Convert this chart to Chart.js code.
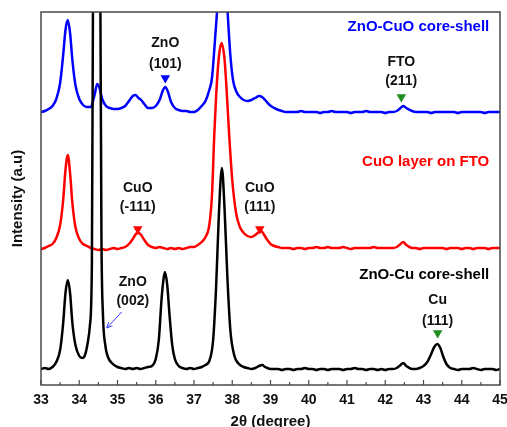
<!DOCTYPE html>
<html>
<head>
<meta charset="utf-8">
<script src="https://cdn.jsdelivr.net/npm/chart.js@4.4.0/dist/chart.umd.min.js"></script>
<style>
  html, body { margin: 0; padding: 0; background: #fff; }
</style>
</head>
<body>
<canvas id="xrd" width="507" height="427"></canvas>
<script>
// --- data (2θ in degrees, intensity in arbitrary units, traces already offset) ---
const blackTheta = [33.0,33.1,33.2,33.3,33.4,33.5,33.58,33.64,33.7,33.76,
  33.82,33.9,34.0,34.08,34.15,34.22,34.28,34.33,34.36,34.46,
  34.55,34.58,34.62,34.68,34.75,34.85,35.0,35.1,35.2,35.3,
  35.4,35.5,35.6,35.7,35.8,35.9,36.0,36.08,36.15,36.2,
  36.24,36.3,36.36,36.43,36.5,36.6,36.7,36.8,36.9,37.0,
  37.1,37.2,37.3,37.4,37.5,37.58,37.65,37.73,37.8,37.87,
  37.95,38.05,38.15,38.3,38.4,38.5,38.6,38.7,38.78,38.86,
  39.0,39.1,39.2,39.3,39.4,39.5,39.6,39.7,39.8,39.9,
  40.0,40.1,40.2,40.3,40.4,40.5,40.6,40.7,40.8,40.9,
  41.0,41.1,41.2,41.3,41.4,41.5,41.6,41.7,41.8,41.9,
  42.0,42.1,42.2,42.3,42.4,42.47,42.55,42.7,42.8,42.9,
  43.0,43.1,43.2,43.28,43.36,43.44,43.52,43.6,43.7,43.8,
  43.9,44.0,44.1,44.2,44.3,44.4,44.5,44.6,44.7,44.8,
  44.9,45.0];
const blackCounts = [16,17,16,18,23,35,62,92,105,92,
  62,40,29,27,30,42,60,120,400,1500,
  400,150,70,40,28,22,18,17,16,17,
  16,17,16,17,18,19,26,45,85,105,
  113,100,70,40,26,19,17,16,17,16,
  17,18,20,24,45,100,170,217,175,110,
  55,30,22,18,17,16,17,19,20,18,
  16,16,16,15,16,16,15,16,16,17,
  16,16,15,16,16,15,16,16,16,15,
  16,16,17,16,16,15,16,16,15,16,
  15,16,16,17,20,22,19,16,16,17,
  19,23,31,38,41,37,28,21,17,16,
  15,16,16,16,17,16,15,16,16,16,
  15,16];

const redTheta = [33.0,33.1,33.2,33.3,33.4,33.5,33.58,33.64,33.7,33.76,
  33.82,33.9,34.0,34.1,34.2,34.3,34.4,34.5,34.6,34.7,
  34.8,34.9,35.0,35.1,35.2,35.3,35.4,35.48,35.55,35.62,
  35.7,35.8,35.9,36.0,36.1,36.2,36.3,36.4,36.5,36.6,
  36.7,36.8,36.9,37.0,37.1,37.2,37.3,37.4,37.47,37.53,
  37.58,37.65,37.72,37.8,37.86,37.92,38.0,38.1,38.2,38.3,
  38.4,38.5,38.6,38.7,38.76,38.82,38.9,39.0,39.1,39.2,
  39.3,39.4,39.5,39.6,39.7,39.8,39.9,40.0,40.1,40.2,
  40.3,40.4,40.5,40.6,40.7,40.8,40.9,41.0,41.1,41.2,
  41.3,41.4,41.5,41.6,41.7,41.8,41.9,42.0,42.1,42.2,
  42.3,42.4,42.47,42.55,42.7,42.8,42.9,43.0,43.1,43.2,
  43.3,43.4,43.5,43.6,43.7,43.8,43.9,44.0,44.1,44.2,
  44.3,44.4,44.5,44.6,44.7,44.8,44.9,45.0];
const redCounts = [136,137,139,141,147,160,185,215,230,212,
  182,158,146,141,139,137,136,135,136,135,
  136,137,136,137,138,141,146,151,152,150,
  145,140,138,137,138,137,136,137,136,137,
  136,137,138,138,140,143,148,160,190,250,
  290,328,342,325,290,250,205,172,158,152,
  149,148,150,153,154,151,146,141,139,138,
  137,137,137,136,137,137,136,137,137,138,
  137,137,138,137,137,137,138,137,136,137,
  137,137,137,137,138,137,137,137,137,137,
  138,141,143,140,137,137,136,137,137,137,
  137,137,137,136,137,137,137,136,137,137,
  136,137,137,137,136,137,137,137];

const blueTheta = [33.0,33.1,33.2,33.3,33.4,33.5,33.58,33.64,33.7,33.76,
  33.82,33.9,34.0,34.1,34.2,34.3,34.4,34.47,34.53,34.6,
  34.7,34.8,34.9,35.0,35.1,35.2,35.3,35.4,35.47,35.55,
  35.62,35.7,35.8,35.9,36.0,36.1,36.18,36.25,36.32,36.4,
  36.5,36.6,36.7,36.8,36.9,37.0,37.1,37.2,37.3,37.4,
  37.47,37.53,37.6,37.75,37.88,37.95,38.02,38.1,38.2,38.3,
  38.4,38.5,38.6,38.7,38.78,38.86,38.95,39.05,39.15,39.3,
  39.4,39.5,39.6,39.7,39.8,39.9,40.0,40.1,40.2,40.3,
  40.4,40.5,40.6,40.7,40.8,40.9,41.0,41.1,41.2,41.3,
  41.4,41.5,41.6,41.7,41.8,41.9,42.0,42.1,42.2,42.3,
  42.4,42.47,42.55,42.7,42.8,42.9,43.0,43.1,43.2,43.3,
  43.4,43.5,43.6,43.7,43.8,43.9,44.0,44.1,44.2,44.3,
  44.4,44.5,44.6,44.7,44.8,44.9,45.0];
const blueCounts = [273,274,276,279,286,302,330,355,365,352,
  325,300,286,280,278,278,290,301,297,286,
  279,277,276,276,277,279,284,289,290,287,
  285,281,277,277,279,285,294,298,293,283,
  277,275,274,274,273,273,275,279,284,295,
  307,335,372,460,372,330,305,294,288,285,
  284,285,287,289,288,285,281,278,276,274,
  273,273,273,273,274,273,273,273,273,272,
  273,273,274,273,273,273,273,272,273,273,
  273,274,273,273,273,273,272,273,273,274,
  277,279,277,274,273,273,273,273,272,273,
  273,273,273,273,273,272,273,273,273,273,
  273,273,272,273,273,273,273];

// peak markers (▼) and their labels
const markerTheta  = [36.25, 42.42, 35.53, 38.72, 43.37];
const markerCounts = [307, 288, 156, 156, 52];
const markerColors = ['#0000ff', '#1e8c1e', '#ff0000', '#ff0000', '#1e8c1e'];

const peakText   = ['ZnO', '(101)', 'FTO', '(211)', 'CuO', '(-111)', 'CuO', '(111)', 'ZnO', '(002)', 'Cu', '(111)'];
const peakTheta  = [36.25, 36.25, 42.42, 42.42, 35.53, 35.53, 38.72, 38.72, 35.4, 35.4, 43.37, 43.37];
const peakCounts = [342, 321, 323, 304, 197, 178, 197, 178, 103, 84, 85, 64];

const seriesNames  = ['ZnO-CuO core-shell', 'CuO layer on FTO', 'ZnO-Cu core-shell'];
const seriesColors = ['#0000ff', '#ff0000', '#000000'];
const seriesLabelY = [358, 223, 110];

const xTicks = [33, 34, 35, 36, 37, 38, 39, 40, 41, 42, 43, 44, 45];

const toPoints = (xs, ys) => xs.map((t, i) => ({ x: t, y: ys[i] }));

Chart.defaults.font.family = "'Liberation Sans', Arial, sans-serif";
Chart.defaults.color = '#000';

function line(ctx, x1, y1, x2, y2) {
  ctx.beginPath();
  ctx.moveTo(x1, y1);
  ctx.lineTo(x2, y2);
  ctx.stroke();
}

// frame, inward ticks, annotation text and the arrow
const decor = {
  id: 'xrdDecor',
  afterDatasetsDraw(chart) {
    const { ctx, chartArea: a, scales: { x, y } } = chart;
    ctx.save();

    ctx.strokeStyle = '#4a4a4a';
    ctx.lineWidth = 1.5;
    ctx.strokeRect(a.left, a.top, a.right - a.left, a.bottom - a.top);

    ctx.lineWidth = 1.2;
    xTicks.forEach(v => {
      const px = x.getPixelForValue(v);
      line(ctx, px, a.bottom, px, a.bottom - 5);
      if (v < x.max) {
        const mx = x.getPixelForValue(v + 0.5);
        line(ctx, mx, a.bottom, mx, a.bottom - 3);
      }
    });

    ctx.textBaseline = 'middle';
    ctx.textAlign = 'center';
    ctx.fillStyle = '#111';
    ctx.font = "bold 14px 'Liberation Sans', Arial, sans-serif";
    peakText.forEach((s, i) => {
      ctx.fillText(s, x.getPixelForValue(peakTheta[i]), y.getPixelForValue(peakCounts[i]));
    });

    ctx.textAlign = 'right';
    ctx.font = "bold 15px 'Liberation Sans', Arial, sans-serif";
    seriesNames.forEach((s, i) => {
      ctx.fillStyle = seriesColors[i];
      ctx.fillText(s, x.getPixelForValue(44.72), y.getPixelForValue(seriesLabelY[i]));
    });

    // thin blue arrow pointing at the ZnO (002) peak
    const x1 = x.getPixelForValue(35.11), y1 = y.getPixelForValue(73);
    const x2 = x.getPixelForValue(34.72), y2 = y.getPixelForValue(57);
    const ang = Math.atan2(y2 - y1, x2 - x1);
    ctx.strokeStyle = '#3a3aff';
    ctx.lineWidth = 1;
    line(ctx, x1, y1, x2, y2);
    line(ctx, x2, y2, x2 - 6 * Math.cos(ang - 0.45), y2 - 6 * Math.sin(ang - 0.45));
    line(ctx, x2, y2, x2 - 6 * Math.cos(ang + 0.45), y2 - 6 * Math.sin(ang + 0.45));

    ctx.restore();
  }
};

const traceStyle = {
  type: 'line',
  pointRadius: 0,
  borderWidth: 2.5,
  cubicInterpolationMode: 'monotone',
  fill: false,
};

new Chart(document.getElementById('xrd'), {
  type: 'line',
  data: {
    datasets: [
      { ...traceStyle, label: seriesNames[2], data: toPoints(blackTheta, blackCounts), borderColor: '#000' },
      { ...traceStyle, label: seriesNames[1], data: toPoints(redTheta, redCounts), borderColor: '#ff0000' },
      { ...traceStyle, label: seriesNames[0], data: toPoints(blueTheta, blueCounts), borderColor: '#0000ff' },
      {
        type: 'scatter',
        label: 'markers',
        data: toPoints(markerTheta, markerCounts),
        pointStyle: 'triangle',
        rotation: 180,
        pointRadius: 5.5,
        pointBorderWidth: 0,
        pointBackgroundColor: markerColors,
        clip: false,
      },
    ],
  },
  options: {
    responsive: false,
    animation: false,
    layout: { padding: { top: 12, right: 7, left: 0, bottom: 0 } },
    plugins: { legend: { display: false }, tooltip: { enabled: false } },
    scales: {
      x: {
        type: 'linear',
        min: 33,
        max: 45,
        afterFit: s => { s.height = 42; s.paddingLeft = 0; s.paddingRight = 0; },
        grid: { display: false, drawTicks: false },
        border: { display: false },
        ticks: {
          stepSize: 1,
          padding: 7,
          color: '#111',
          font: { size: 14, weight: 'bold' },
        },
        title: {
          display: true,
          text: '2θ (degree)',
          color: '#111',
          font: { size: 15, weight: 'bold' },
          padding: { top: 0, bottom: -4 },
        },
      },
      y: {
        min: 0,
        max: 373,
        afterFit: s => { s.width = 41; s.paddingTop = 0; s.paddingBottom = 0; },
        grid: { display: false, drawTicks: false },
        border: { display: false },
        ticks: { display: false },
        title: {
          display: true,
          text: 'Intensity (a.u)',
          color: '#111',
          font: { size: 15, weight: 'bold' },
          padding: { top: 9, bottom: 0 },
        },
      },
    },
  },
  plugins: [decor],
});
</script>
</body>
</html>
